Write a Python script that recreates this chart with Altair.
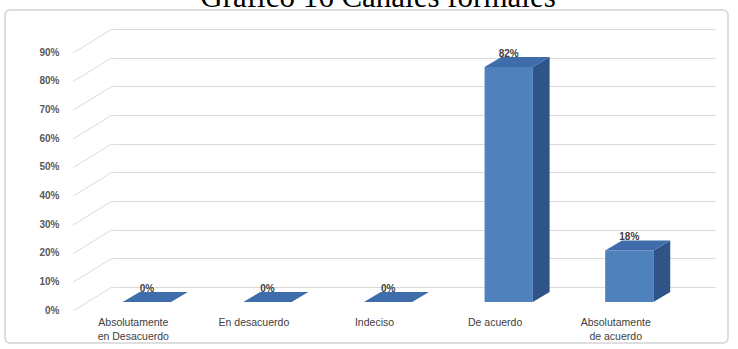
import altair as alt
import pandas as pd

# ---- data ----
categories = ["Absolutamente\nen Desacuerdo", "En desacuerdo", "Indeciso", "De acuerdo", "Absolutamente\nde acuerdo"]
values = [0.0, 0.0, 0.0, 0.82, 0.18]
value_labels = ["0%", "0%", "0%", "82%", "18%"]
y_ticks = [0.0, 0.1, 0.2, 0.3, 0.4, 0.5, 0.6, 0.7, 0.8, 0.9]
title_text = ["Gráfico 16 Canales formales"]

# ---- style / 3D geometry constants ----
W, H = 603, 258            # back wall plot area
YMAX = 0.9
PX_PER_X = W / 5.0
PX_PER_Y = H / YMAX
HALF = 0.2                 # half bar width (x units)
BAR_DXPX, BAR_DYPX = 16.8, 10.0
DX = BAR_DXPX / PX_PER_X   # bar depth in data units
DY = BAR_DYPX / PX_PER_Y
FRONT_XOFF, FRONT_YOFF = -25.4, 15.0   # bar front plane offset from back wall
WALL_DX, WALL_DY = 39.0, 24.0          # floor front edge offset

FRONT = "#4f81bd"
SIDE = "#2f5487"
TOP = "#3f6dab"

front_rows, side_rows, top_rows = [], [], []
for i, (c, v) in enumerate(zip(categories, values)):
    xc = i + 0.5
    front_rows.append({"cat": c, "xl": xc - HALF, "xr": xc + HALF, "v": v, "z": 0.0, "xc": xc,
                       "lab": value_labels[i]})
    side_rows.append({"cat": c, "x": xc + HALF, "top": v, "bot": 0.0})
    side_rows.append({"cat": c, "x": xc + HALF + DX, "top": v + DY, "bot": DY})
    top_rows.append({"cat": c, "y": v, "x1": xc - HALF, "x2": xc + HALF})
    top_rows.append({"cat": c, "y": v + DY, "x1": xc - HALF + DX, "x2": xc + HALF + DX})

front_df = pd.DataFrame(front_rows)
side_df = pd.DataFrame(side_rows)
top_df = pd.DataFrame(top_rows)
tick_df = pd.DataFrame({"t": y_ticks, "x0": [0.0] * len(y_ticks)})
title_df = pd.DataFrame({"title": title_text})
frame_df = pd.DataFrame({"a": [0]})

xs = alt.Scale(domain=[0, 5], nice=False, zero=False)
ys = alt.Scale(domain=[0, YMAX], nice=False)

yaxis = alt.Axis(
    values=y_ticks, format=".0%", title=None, domain=False, ticks=False,
    grid=True, gridColor="#dadada", gridWidth=1,
    labelPadding=53, labelOffset=WALL_DY - 1, labelColor="#595959",
    labelFont="Liberation Sans", labelFontSize=10, labelFontWeight="bold")

def Y(field):
    return alt.Y(field, scale=ys, axis=yaxis)

def X(field):
    return alt.X(field, scale=xs, axis=None)

off = dict(xOffset=FRONT_XOFF, x2Offset=FRONT_XOFF, yOffset=FRONT_YOFF, y2Offset=FRONT_YOFF)

front = alt.Chart(front_df).mark_rect(color=FRONT, **off).encode(
    x=X("xl:Q"), x2="xr:Q", y=Y("v:Q"), y2="z:Q",
)

wall = alt.Chart(tick_df).mark_point(
    shape="M-1,0.615L1,-0.615", size=WALL_DX ** 2, filled=False,
    stroke="#dadada", strokeWidth=1, opacity=1,
    xOffset=-WALL_DX / 2, yOffset=WALL_DY / 2,
).encode(x=X("x0:Q"), y=Y("t:Q"))

side = alt.Chart(side_df).mark_area(color=SIDE, orient="vertical", opacity=1, **off).encode(
    x=X("x:Q"), y=Y("top:Q"), y2="bot:Q", detail="cat:N",
)

top = alt.Chart(top_df).mark_area(color=TOP, orient="horizontal", opacity=1, **off).encode(
    y=Y("y:Q"), x=X("x1:Q"), x2="x2:Q", detail="cat:N",
)

vlabels = alt.Chart(front_df).mark_text(
    font="Liberation Sans", fontSize=10, fontWeight="bold", color="#404040",
    baseline="middle", xOffset=FRONT_XOFF, yOffset=2,
).encode(x=X("xc:Q"), y=Y("v:Q"), text="lab:N")

xlabels = alt.Chart(front_df).mark_text(
    font="Liberation Sans", fontSize=10.5, color="#404040", baseline="top",
    lineBreak="\n", lineHeight=14, xOffset=-WALL_DX, yOffset=31,
).encode(x=X("xc:Q"), y=Y("z:Q"), text="cat:N")

title = alt.Chart(title_df).mark_text(
    font="Liberation Serif", fontSize=31, color="#000000", baseline="alphabetic", align="center",
).encode(x=alt.value(266), y=alt.value(-22), text="title:N")

frame = alt.Chart(frame_df).mark_rect(
    fillOpacity=0, stroke="#d4d4d4", strokeWidth=1.5, cornerRadius=5,
).encode(x=alt.value(-107), x2=alt.value(616), y=alt.value(-19), y2=alt.value(314))

chart = alt.layer(front, wall, vlabels, side, top, xlabels, title, frame).properties(
    width=W, height=H,
    autosize=alt.AutoSizeParams(type="none"),
    padding={"left": 112, "top": 29, "right": 23, "bottom": 62},
    background="white",
).configure_view(strokeWidth=0)

chart.save("out.html", embed_options={"renderer": "svg", "actions": False})
